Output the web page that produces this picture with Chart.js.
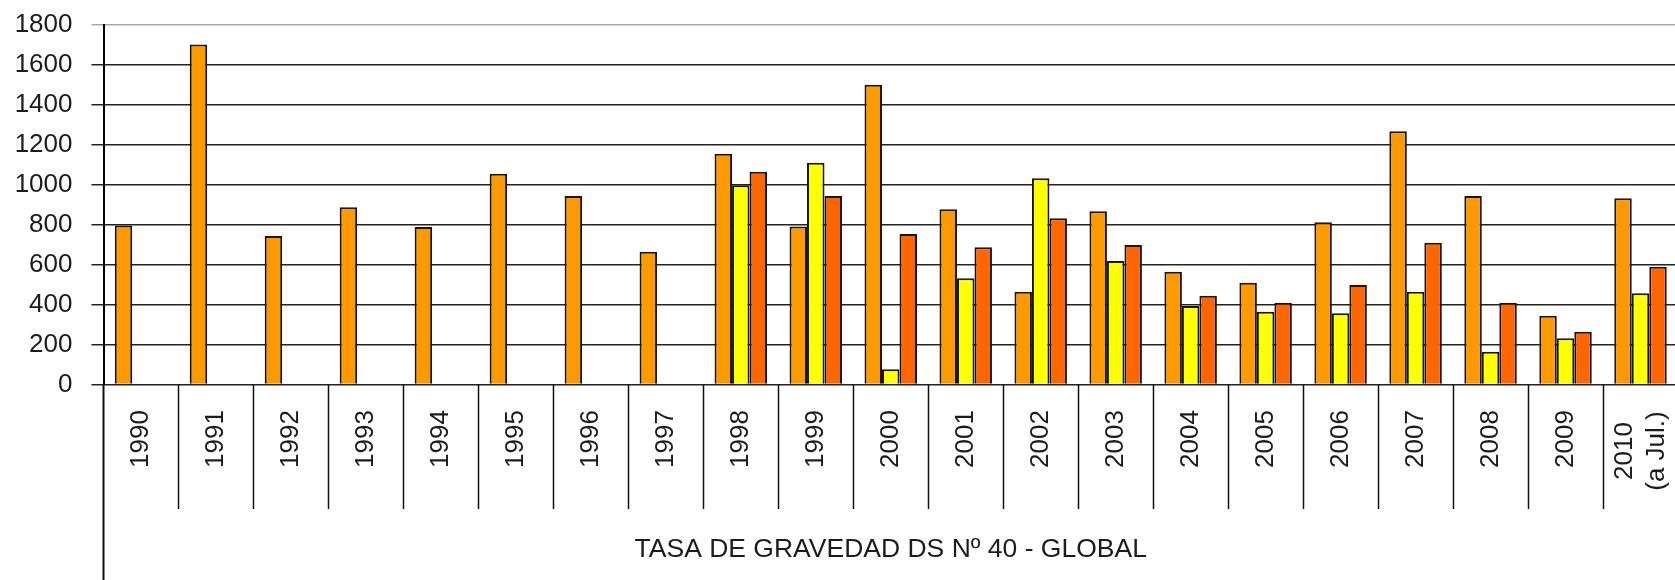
<!DOCTYPE html>
<html>
<head>
<meta charset="utf-8">
<script src="https://cdn.jsdelivr.net/npm/chart.js@4"></script>
<style>
  html, body { margin: 0; padding: 0; background: #fff; overflow: hidden; }
  #wrap { width: 1678px; height: 580px; }
</style>
</head>
<body>
<div id="wrap"><canvas id="chart" width="1678" height="580"></canvas></div>
<script>
const years = [
  "1990", "1991", "1992", "1993", "1994", "1995", "1996", "1997", "1998", "1999",
  "2000", "2001", "2002", "2003", "2004", "2005", "2006", "2007", "2008", "2009",
  ["2010", "(a Jul.)"]
];
const seriesOrange = [795, 1700, 742, 886, 787, 1054, 942, 664, 1154, 790, 1499, 876, 464, 866, 564, 509, 811, 1266, 942, 344, 931];
const seriesYellow = [null, null, null, null, null, null, null, null, 996, 1109, 76, 531, 1031, 617, 392, 364, 356, 464, 164, 231, 456];
const seriesRed = [null, null, null, null, null, null, null, null, 1064, 942, 752, 686, 831, 697, 444, 409, 497, 709, 409, 264, 589];
const yTicks = [0, 200, 400, 600, 800, 1000, 1200, 1400, 1600, 1800];
const axisTitle = "TASA DE GRAVEDAD DS Nº 40 - GLOBAL";

const textColor = "#1c1c1c";
const fontFamily = "'Liberation Sans', Arial, sans-serif";

// year labels (rotated), category separators below the x axis,
// and the y axis line carried down to the bottom edge
const axisExtras = {
  id: "axisExtras",
  afterDraw(chart) {
    const ctx = chart.ctx;
    const x = chart.scales.x;
    const area = chart.chartArea;
    const half = (x.getPixelForValue(1) - x.getPixelForValue(0)) / 2;
    ctx.save();
    ctx.strokeStyle = "#111";
    ctx.lineWidth = 1.5;
    ctx.beginPath();
    for (let i = 0; i < years.length; i++) {
      const px = Math.round(x.getPixelForValue(i) + half) + 0.5;
      ctx.moveTo(px, area.bottom);
      ctx.lineTo(px, 509);
    }
    ctx.stroke();
    ctx.lineWidth = 2;
    ctx.beginPath();
    ctx.moveTo(area.left, area.bottom);
    ctx.lineTo(area.left, chart.height);
    ctx.stroke();

    ctx.fillStyle = textColor;
    ctx.font = "26px " + fontFamily;
    ctx.textAlign = "center";
    ctx.textBaseline = "middle";
    years.forEach((lab, i) => {
      const lines = Array.isArray(lab) ? lab : [lab];
      const cx = x.getPixelForValue(i);
      const cy = lines.length > 1 ? 451 : 439;
      lines.forEach((t, j) => {
        const off = (j - (lines.length - 1) / 2) * 32;
        ctx.save();
        ctx.translate(cx + off, cy);
        ctx.rotate(-Math.PI / 2);
        ctx.fillText(t, 0, 0);
        ctx.restore();
      });
    });
    ctx.restore();
  }
};

new Chart(document.getElementById("chart"), {
  type: "bar",
  data: {
    labels: years,
    datasets: [
      { label: "Serie 1", data: seriesOrange, backgroundColor: "#FF9900" },
      { label: "Serie 2", data: seriesYellow, backgroundColor: "#FFFF00" },
      { label: "Serie 3", data: seriesRed, backgroundColor: "#FF6600" }
    ]
  },
  options: {
    responsive: false,
    devicePixelRatio: 1,
    animation: false,
    layout: { padding: { top: 24.5, left: 0, right: 0, bottom: 0 } },
    datasets: {
      bar: {
        categoryPercentage: 0.7,
        barPercentage: 1,
        borderColor: "#161616",
        borderWidth: 2
      }
    },
    plugins: {
      legend: { display: false },
      tooltip: { enabled: false }
    },
    scales: {
      x: {
        grid: { display: false, drawTicks: false },
        border: { display: false },
        ticks: { display: false },
        title: {
          display: true,
          text: axisTitle,
          color: textColor,
          font: { family: fontFamily, size: 26.5 },
          padding: { top: 0, bottom: 14 }
        },
        afterFit(scale) {
          scale.height = 195.5;
          scale.paddingLeft = 0;
          scale.paddingRight = 0;
        }
      },
      y: {
        min: 0,
        max: 1800,
        afterBuildTicks(scale) { scale.ticks = yTicks.map(v => ({ value: v })); },
        grid: {
          color: ctx => (ctx.tick && ctx.tick.value === 1800 ? "#a8a8a8" : "#222"),
          lineWidth: 1.5,
          tickLength: 12,
          drawTicks: true
        },
        border: { display: true, color: "#000", width: 2 },
        ticks: {
          padding: 19,
          color: textColor,
          font: { family: fontFamily, size: 26 },
          callback: v => String(v)
        },
        afterFit(scale) {
          scale.width = 103.5;
          scale.paddingTop = 0;
          scale.paddingBottom = 0;
        }
      }
    }
  },
  plugins: [axisExtras]
});
</script>
</body>
</html>
